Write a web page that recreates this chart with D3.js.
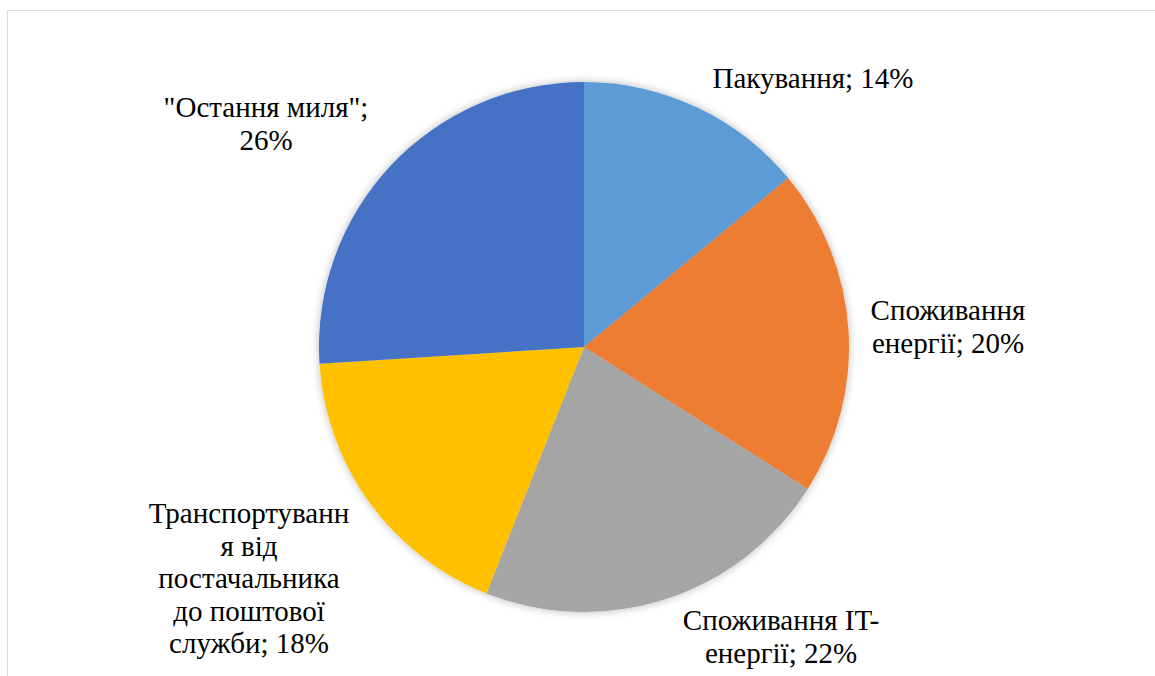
<!DOCTYPE html>
<html lang="uk">
<head>
<meta charset="utf-8">
<title>Структура викидів</title>
<script src="https://cdn.jsdelivr.net/npm/d3@7"></script>
<style>
  html, body { margin: 0; padding: 0; background: #fff; overflow: hidden; }
  svg { display: block; }
  .lbl { font-family: "Liberation Serif", "Times New Roman", Times, serif; font-size: 29px; }
</style>
</head>
<body>
<svg id="chart" width="1155" height="676"></svg>
<script>
// Categories, shares (%) and colours, clockwise from 12 o'clock
const categories = [
  "Пакування",
  "Споживання енергії",
  "Споживання IT-енергії",
  "Транспортування від постачальника до поштової служби",
  "\"Остання миля\""
];
const shares = [14, 20, 22, 18, 26];
const colors = ["#5B9BD5", "#ED7D31", "#A5A5A5", "#FFC000", "#4472C4"];

// Wrapped label lines; {v} is replaced with the share
const labelLines = [
  ["Пакування; {v}%"],
  ["Споживання", "енергії; {v}%"],
  ["Споживання IT-", "енергії; {v}%"],
  ["Транспортуванн", "я від", "постачальника", "до поштової", "служби; {v}%"],
  ["\"Остання миля\";", "{v}%"]
];

// Layout: label anchor (centre x, first baseline y)
const labelAnchors = [
  [813, 88],
  [948, 320],
  [781, 630],
  [249, 523],
  [266, 117]
];

const svg = d3.select("#chart");
const W = 1155, H = 676;
const cx = 584, cy = 347, R = 265;
const lineGap = 32.5;

// chart area frame
svg.append("rect")
  .attr("x", 7.5).attr("y", 10.5)
  .attr("width", W + 20).attr("height", H + 20)
  .attr("fill", "#fff")
  .attr("stroke", "#d9d9d9")
  .attr("stroke-width", 1);

// soft shadow around the pie
const defs = svg.append("defs");
const f = defs.append("filter").attr("id", "glow")
  .attr("x", "-10%").attr("y", "-10%").attr("width", "120%").attr("height", "120%");
f.append("feGaussianBlur").attr("in", "SourceAlpha").attr("stdDeviation", 4).attr("result", "b");
f.append("feFlood").attr("flood-color", "#000").attr("flood-opacity", 0.28);
f.append("feComposite").attr("in2", "b").attr("operator", "in").attr("result", "s");
const m = f.append("feMerge");
m.append("feMergeNode").attr("in", "s");
m.append("feMergeNode").attr("in", "SourceGraphic");

const data = categories.map((c, i) => ({ name: c, value: shares[i], color: colors[i], i }));

const pie = d3.pie().value(d => d.value).sort(null);
const arc = d3.arc().innerRadius(0).outerRadius(R);

const g = svg.append("g")
  .attr("transform", `translate(${cx},${cy})`)
  .attr("filter", "url(#glow)");

g.selectAll("path")
  .data(pie(data))
  .join("path")
  .attr("d", arc)
  .attr("fill", d => d.data.color);

// data labels
const labels = svg.append("g")
  .attr("class", "lbl")
  .attr("fill", "#000")
  .attr("text-anchor", "middle");

data.forEach((d, i) => {
  const [x, y] = labelAnchors[i];
  const t = labels.append("text").attr("x", x).attr("y", y);
  labelLines[i].forEach((ln, k) => {
    t.append("tspan")
      .attr("x", x)
      .attr("y", y + k * lineGap)
      .text(ln.replace("{v}", d.value));
  });
});
</script>
</body>
</html>
